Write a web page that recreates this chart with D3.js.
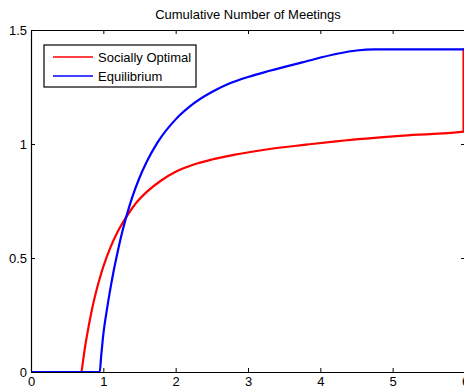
<!DOCTYPE html>
<html>
<head>
<meta charset="utf-8">
<script src="https://cdn.jsdelivr.net/npm/d3@7"></script>
<style>
  body { margin: 0; background: #fff; }
  svg { display: block; font-family: "Liberation Sans", Arial, Helvetica, sans-serif; }
</style>
</head>
<body>
<svg id="chart"></svg>
<script>
// Cumulative Number of Meetings - socially optimal vs equilibrium
const titleText = "Cumulative Number of Meetings"
const seriesNames = ["Socially Optimal", "Equilibrium"]
const seriesColors = ["#ff0000", "#0000ff"]

const xTicks = [0, 1, 2, 3, 4, 5, 6]
const yTicks = [0, 0.5, 1, 1.5]

// [x, y] points
const sociallyOptimal = [
    [0, 0], [0.695, 0], [0.72, 0.05], [0.75, 0.115], [0.8, 0.205], [0.85, 0.285],
    [0.9, 0.352], [0.95, 0.41], [1.0, 0.462], [1.1, 0.548], [1.2, 0.616],
    [1.314, 0.678], [1.45, 0.74], [1.6, 0.79], [1.8, 0.84], [2.0, 0.878],
    [2.25, 0.91], [2.5, 0.932], [2.8, 0.952], [3.3, 0.978], [3.8, 0.997],
    [4.25, 1.013], [5.15, 1.037], [5.98, 1.054], [5.98, 1.415], [6, 1.415]
]

const equilibrium = [
    [0, 0], [0.95, 0], [0.97, 0.07], [1.0, 0.165], [1.05, 0.275], [1.1, 0.37],
    [1.15, 0.455], [1.2, 0.53], [1.25, 0.6], [1.314, 0.677], [1.4, 0.767],
    [1.5, 0.852], [1.6, 0.922], [1.75, 1.007], [2.0, 1.108], [2.25, 1.178],
    [2.5, 1.228], [2.75, 1.266], [3.0, 1.294], [3.3, 1.321], [3.75, 1.358],
    [4.25, 1.397], [4.5, 1.41], [4.75, 1.415], [6, 1.415]
]

let svgWidth = 464
let svgHeight = 389
let margin = { left: 31, top: 30, right: -1, bottom: 17 }
let chartWidth = svgWidth - margin.left - margin.right
let chartHeight = svgHeight - margin.top - margin.bottom

const svg = d3.select("#chart")
    .attr("width", svgWidth)
    .attr("height", svgHeight)

svg.append("rect")
    .attr("width", svgWidth)
    .attr("height", svgHeight)
    .attr("fill", "#fff")

const g = svg.append("g")
    .attr("transform", `translate(${margin.left}, ${margin.top})`)

var x = d3.scaleLinear().domain([0, 6]).range([0, chartWidth])
var y = d3.scaleLinear().domain([0, 1.5]).range([chartHeight, 0])

// lines first, axes box drawn on top
var line = d3.line()
    .x(d => x(d[0]))
    .y(d => y(d[1]))
    .curve(d3.curveMonotoneX)

var series = [sociallyOptimal, equilibrium]
g.append("g")
    .selectAll("path")
    .data(series)
    .enter()
    .append("path")
    .attr("fill", "none")
    .attr("stroke", (d, i) => seriesColors[i])
    .attr("stroke-width", 2.2)
    .attr("stroke-linejoin", "round")
    .attr("d", d => line(d))

// axes (MATLAB style box, ticks inward)
var tickLen = 4
var bottomAxis = g.append("g")
    .attr("transform", `translate(0, ${chartHeight})`)
    .call(d3.axisBottom(x).tickValues(xTicks).tickSizeInner(-tickLen).tickSizeOuter(0).tickPadding(5).tickFormat(d3.format("d")))
var topAxis = g.append("g")
    .call(d3.axisTop(x).tickValues(xTicks).tickSizeInner(-tickLen).tickSizeOuter(0).tickFormat(""))
var leftAxis = g.append("g")
    .call(d3.axisLeft(y).tickValues(yTicks).tickSizeInner(-tickLen).tickSizeOuter(0).tickPadding(4).tickFormat(d => d))
var rightAxis = g.append("g")
    .attr("transform", `translate(${chartWidth}, 0)`)
    .call(d3.axisRight(y).tickValues(yTicks).tickSizeInner(-tickLen).tickSizeOuter(0).tickFormat(""))

g.selectAll(".domain").attr("stroke", "#000").attr("stroke-width", 1.2)
g.selectAll(".tick line").attr("stroke", "#000").attr("stroke-width", 1)
g.selectAll(".tick text")
    .attr("fill", "#000")
    .style("font-size", "13px")
    .style("font-family", "'Liberation Sans', Arial, sans-serif")

// title
svg.append("text")
    .attr("x", margin.left + chartWidth / 2)
    .attr("y", 19)
    .attr("text-anchor", "middle")
    .style("font-size", "13px")
    .text(titleText)

// legend
var legend = svg.append("g").attr("transform", "translate(44, 45)")
legend.append("rect")
    .attr("width", 152)
    .attr("height", 42)
    .attr("fill", "#fff")
    .attr("stroke", "#000")
    .attr("stroke-width", 1.2)

var items = legend.selectAll(".item")
    .data(seriesNames)
    .enter()
    .append("g")
    .attr("class", "item")
    .attr("transform", (d, i) => `translate(0, ${12 + i * 19})`)

items.append("line")
    .attr("x1", 9).attr("x2", 49)
    .attr("stroke", (d, i) => seriesColors[i])
    .attr("stroke-width", 1.6)

items.append("text")
    .attr("x", 54)
    .attr("y", 4.5)
    .style("font-size", "13px")
    .text(d => d)
</script>
</body>
</html>
